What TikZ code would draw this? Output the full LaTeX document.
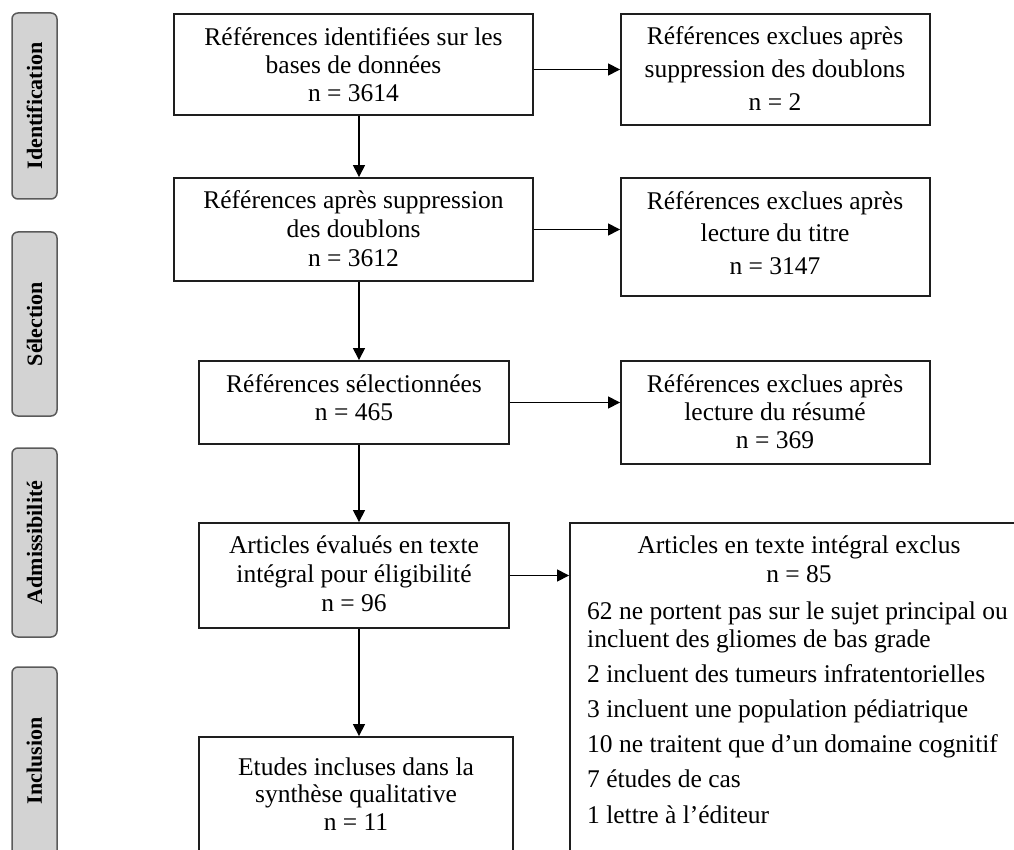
\documentclass[tikz,border=0pt]{standalone}
\usepackage{fontspec}
\setmainfont{Liberation Serif}
\usetikzlibrary{arrows.meta}
\definecolor{boxline}{HTML}{1E1E1E}
\definecolor{tabfill}{HTML}{D3D3D3}
\definecolor{tabline}{HTML}{5A5A5A}
\tikzset{
  box/.style={draw=boxline, line width=1.9pt, rectangle, inner sep=0pt, fill=white},
  tab/.style={draw=tabline, fill=tabfill, line width=1.5pt, rounded corners=6pt, rectangle, inner sep=0pt},
  tabtxt/.style={font=\fontsize{22}{26}\selectfont\bfseries, rotate=90, inner sep=0pt},
  txt/.style={font=\fontsize{25.5}{29}\selectfont, inner sep=0pt, anchor=base},
  ltxt/.style={txt, anchor=base west},
  arr/.style={line width=1.5pt, draw=black, -{Triangle[length=12pt,width=12pt]}},
}
\begin{document}
\begin{tikzpicture}[x=1pt,y=-1pt]
\useasboundingbox (0,0) rectangle (1014,850);

% side tabs
\node[tab, minimum width=45pt, minimum height=186pt] (t1) at (34.5,106) {};
\node[tab, minimum width=45pt, minimum height=184pt] (t2) at (34.5,324) {};
\node[tab, minimum width=45pt, minimum height=189pt] (t3) at (34.5,542.5) {};
\node[tab, minimum width=45pt, minimum height=203pt] (t4) at (34.5,768.5) {};
\node[tabtxt] (t1l) at (34.5,106) {Identification};
\node[tabtxt] (t2l) at (34.5,324) {Sélection};
\node[tabtxt] (t3l) at (34.5,542.5) {Admissibilité};
\node[tabtxt] (t4l) at (34.5,761) {Inclusion};

% main boxes
\node[box, minimum width=359pt, minimum height=101pt] (b1) at (353.5,64.5) {};
\node[box, minimum width=359pt, minimum height=103pt] (b2) at (353.5,229.5) {};
\node[box, minimum width=310pt, minimum height=83pt] (b3) at (354,402.5) {};
\node[box, minimum width=310pt, minimum height=105pt] (b4) at (354,575.5) {};
\node[box, minimum width=314pt, minimum height=143pt] (b5) at (356,808.5) {};

% exclusion boxes
\node[box, minimum width=309pt, minimum height=111pt] (e1) at (775.5,69.5) {};
\node[box, minimum width=309pt, minimum height=118pt] (e2) at (775.5,237) {};
\node[box, minimum width=309pt, minimum height=103pt] (e3) at (775.5,412.5) {};
\node[box, minimum width=460pt, minimum height=357pt] (e4) at (800,701.5) {};

% texts
\node[txt] (b1a) at (353.5,45.5) {Références identifiées sur les};
\node[txt] (b1b) at (353.5,73.5) {bases de données};
\node[txt] (b1c) at (353.5,102) {n = 3614};

\node[txt] (b2a) at (353.5,209) {Références après suppression};
\node[txt] (b2b) at (353.5,238) {des doublons};
\node[txt] (b2c) at (353.5,267) {n = 3612};

\node[txt] (b3a) at (354,392) {Références sélectionnées};
\node[txt] (b3b) at (354,420) {n = 465};

\node[txt] (b4a) at (354,553) {Articles évalués en texte};
\node[txt] (b4b) at (354,582) {intégral pour éligibilité};
\node[txt] (b4c) at (354,611) {n = 96};

\node[txt] (b5a) at (356,775) {Etudes incluses dans la};
\node[txt] (b5b) at (356,802) {synthèse qualitative};
\node[txt] (b5c) at (356,830) {n = 11};

\node[txt] (e1a) at (775,45) {Références exclues après};
\node[txt] (e1b) at (775,78) {suppression des doublons};
\node[txt] (e1c) at (775,111) {n = 2};

\node[txt] (e2a) at (775,210) {Références exclues après};
\node[txt] (e2b) at (775,242) {lecture du titre};
\node[txt] (e2c) at (775,275) {n = 3147};

\node[txt] (e3a) at (775,392) {Références exclues après};
\node[txt] (e3b) at (775,420) {lecture du résumé};
\node[txt] (e3c) at (775,448) {n = 369};

\node[txt] (e4a) at (799,553) {Articles en texte intégral exclus};
\node[txt] (e4b) at (799,582) {n = 85};
\node[ltxt] (e4c) at (587,619) {62 ne portent pas sur le sujet principal ou};
\node[ltxt] (e4d) at (587,647) {incluent des gliomes de bas grade};
\node[ltxt] (e4e) at (587,682) {2 incluent des tumeurs infratentorielles};
\node[ltxt] (e4f) at (587,717) {3 incluent une population pédiatrique};
\node[ltxt] (e4g) at (587,752) {10 ne traitent que d’un domaine cognitif};
\node[ltxt] (e4h) at (587,787) {7 études de cas};
\node[ltxt] (e4i) at (587,823) {1 lettre à l’éditeur};

% connectors
\draw[arr] (e1.west -| b1.east) -- (e1.west);
\draw[arr] (b2.east) -- (b2.east -| e2.west);
\draw[arr] (b3.east) -- (b3.east -| e3.west);
\draw[arr] (b4.east) -- (b4.east -| e4.west);
\draw[arr] ([xshift=5.5pt]b1.south) -- ([xshift=5.5pt]b1.south |- b2.north);
\draw[arr] ([xshift=5.5pt]b2.south) -- ([xshift=5.5pt]b2.south |- b3.north);
\draw[arr] ([xshift=5pt]b3.south) -- ([xshift=5pt]b3.south |- b4.north);
\draw[arr] ([xshift=5pt]b4.south) -- ([xshift=5pt]b4.south |- b5.north);
\end{tikzpicture}
\end{document}
